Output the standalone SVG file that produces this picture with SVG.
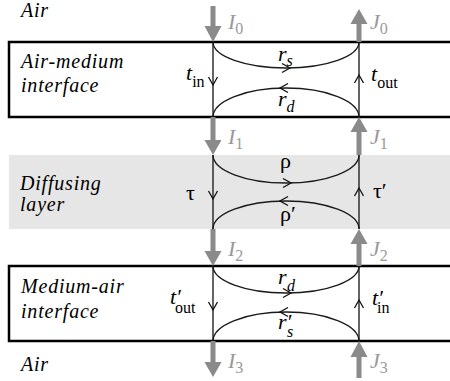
<svg xmlns="http://www.w3.org/2000/svg" width="450" height="381" viewBox="0 0 450 381" font-family="Liberation Serif">
<rect width="450" height="381" fill="#fff"/>
<defs>
<path id="chr" d="M-8,-4.5 L0,0 L-8,4.5" fill="none" stroke="#111" stroke-width="1.3"/>
</defs>

<g id="layers">
<path d="M452,42 H9 V117 H452" fill="#fff" stroke="#000" stroke-width="2.5"/>
<rect x="9" y="155" width="445" height="74" fill="#e6e6e6"/>
<path d="M452,266 H9 V341 H452" fill="#fff" stroke="#000" stroke-width="2.5"/>
</g>

<g id="labels-left">
<text font-family="Liberation Serif" font-style="italic" font-size="20" letter-spacing="0.8" x="21" y="17">Air</text>
<text font-family="Liberation Serif" font-style="italic" font-size="20" letter-spacing="0.8" x="21" y="68">Air-medium</text>
<text font-family="Liberation Serif" font-style="italic" font-size="20" letter-spacing="0.8" x="21" y="92">interface</text>
<text font-family="Liberation Serif" font-style="italic" font-size="20" letter-spacing="0.8" x="20" y="190">Diffusing</text>
<text font-family="Liberation Serif" font-style="italic" font-size="20" letter-spacing="0.8" x="20" y="211">layer</text>
<text font-family="Liberation Serif" font-style="italic" font-size="20" letter-spacing="0.8" x="21" y="293">Medium-air</text>
<text font-family="Liberation Serif" font-style="italic" font-size="20" letter-spacing="0.8" x="21" y="318">interface</text>
<text font-family="Liberation Serif" font-style="italic" font-size="20" letter-spacing="0.8" x="21" y="371">Air</text>
</g>

<g id="connectors" fill="none" stroke="#1a1a1a" stroke-width="1.35">
<line x1="213" y1="42" x2="213" y2="117"/>
<line x1="359" y1="42" x2="359" y2="117"/>
<path d="M213,42 A73,26 0 0 0 359,42"/>
<path d="M213,117 A73,29 0 0 1 359,117"/>
<use href="#chr" transform="translate(213,85) rotate(90)"/>
<use href="#chr" transform="translate(359,75) rotate(-90)"/>
<use href="#chr" transform="translate(290,68)"/>
<use href="#chr" transform="translate(280,88) rotate(180)"/>
<line x1="213" y1="155" x2="213" y2="229"/>
<line x1="359" y1="155" x2="359" y2="229"/>
<path d="M213,155 A73,28 0 0 0 359,155"/>
<path d="M213,229 A73,28 0 0 1 359,229"/>
<use href="#chr" transform="translate(213,199) rotate(90)"/>
<use href="#chr" transform="translate(359,188) rotate(-90)"/>
<use href="#chr" transform="translate(291,183)"/>
<use href="#chr" transform="translate(280,201) rotate(180)"/>
<line x1="213" y1="266" x2="213" y2="341"/>
<line x1="359" y1="266" x2="359" y2="341"/>
<path d="M213,266 A73,27 0 0 0 359,266"/>
<path d="M213,341 A73,29 0 0 1 359,341"/>
<use href="#chr" transform="translate(213,310) rotate(90)"/>
<use href="#chr" transform="translate(359,300) rotate(-90)"/>
<use href="#chr" transform="translate(291,293)"/>
<use href="#chr" transform="translate(280,312) rotate(180)"/>
</g>

<g id="flux-arrows" fill="#8a8a8a">
<rect x="210.5" y="6" width="5" height="22"/><polygon points="204.5,26 221.5,26 213,42"/>
<rect x="210.5" y="117" width="5" height="24"/><polygon points="204.5,140 221.5,140 213,155"/>
<rect x="210.5" y="229" width="5" height="23"/><polygon points="204.5,251 221.5,251 213,266"/>
<rect x="210.5" y="341" width="5" height="23"/><polygon points="204.5,362 221.5,362 213,377"/>
<rect x="356.5" y="22" width="5" height="20"/><polygon points="350.5,24 367.5,24 359,9"/>
<rect x="356.5" y="131" width="5" height="24"/><polygon points="350.5,132 367.5,132 359,117"/>
<rect x="356.5" y="243" width="5" height="23"/><polygon points="350.5,244 367.5,244 359,229"/>
<rect x="356.5" y="355" width="5" height="23"/><polygon points="350.5,357 367.5,357 359,341"/>
</g>

<g id="flux-labels" fill="#999">
<text font-family="Liberation Serif" font-style="italic" font-size="22" x="228" y="29">I<tspan font-style="normal" font-size="16" dy="5">0</tspan></text>
<text font-family="Liberation Serif" font-style="italic" font-size="22" x="370" y="29">J<tspan font-style="normal" font-size="16" dy="5">0</tspan></text>
<text font-family="Liberation Serif" font-style="italic" font-size="22" x="228" y="144">I<tspan font-style="normal" font-size="16" dy="5">1</tspan></text>
<text font-family="Liberation Serif" font-style="italic" font-size="22" x="370" y="144">J<tspan font-style="normal" font-size="16" dy="5">1</tspan></text>
<text font-family="Liberation Serif" font-style="italic" font-size="22" x="228" y="256">I<tspan font-style="normal" font-size="16" dy="5">2</tspan></text>
<text font-family="Liberation Serif" font-style="italic" font-size="22" x="370" y="256">J<tspan font-style="normal" font-size="16" dy="5">2</tspan></text>
<text font-family="Liberation Serif" font-style="italic" font-size="22" x="228" y="368">I<tspan font-style="normal" font-size="16" dy="5">3</tspan></text>
<text font-family="Liberation Serif" font-style="italic" font-size="22" x="370" y="368">J<tspan font-style="normal" font-size="16" dy="5">3</tspan></text>
</g>

<g id="coef-labels" fill="#000">
<text font-family="Liberation Serif" font-style="italic" font-size="22" x="186" y="80">t<tspan font-style="normal" font-size="16" dy="7">in</tspan></text>
<text font-family="Liberation Serif" font-style="italic" font-size="22" x="371" y="81">t<tspan font-style="normal" font-size="16" dy="7">out</tspan></text>
<text font-family="Liberation Serif" font-style="italic" font-size="22" x="278" y="61">r<tspan font-size="16" dy="5">s</tspan></text>
<text font-family="Liberation Serif" font-style="italic" font-size="22" x="278" y="106">r<tspan font-size="16" dy="6">d</tspan></text>
<text font-family="Liberation Serif" font-size="22" x="186" y="200">τ</text>
<text font-family="Liberation Serif" font-size="22" x="373" y="198">τ′</text>
<text font-family="Liberation Serif" font-size="22" x="280" y="168">ρ</text>
<text font-family="Liberation Serif" font-size="22" x="280" y="221">ρ′</text>
<text font-family="Liberation Serif" font-style="italic" font-size="22" x="170" y="304">t′<tspan font-style="normal" font-size="16" x="175" y="313">out</tspan></text>
<text font-family="Liberation Serif" font-style="italic" font-size="22" x="372" y="305">t′<tspan font-style="normal" font-size="16" x="377" y="313">in</tspan></text>
<text font-family="Liberation Serif" font-style="italic" font-size="22" x="278" y="284">r<tspan font-size="16" x="287" y="291">d</tspan></text>
<text font-family="Liberation Serif" font-style="italic" font-size="22" x="278" y="329">r′<tspan font-size="16" x="287" y="337">s</tspan></text>
</g>
</svg>
